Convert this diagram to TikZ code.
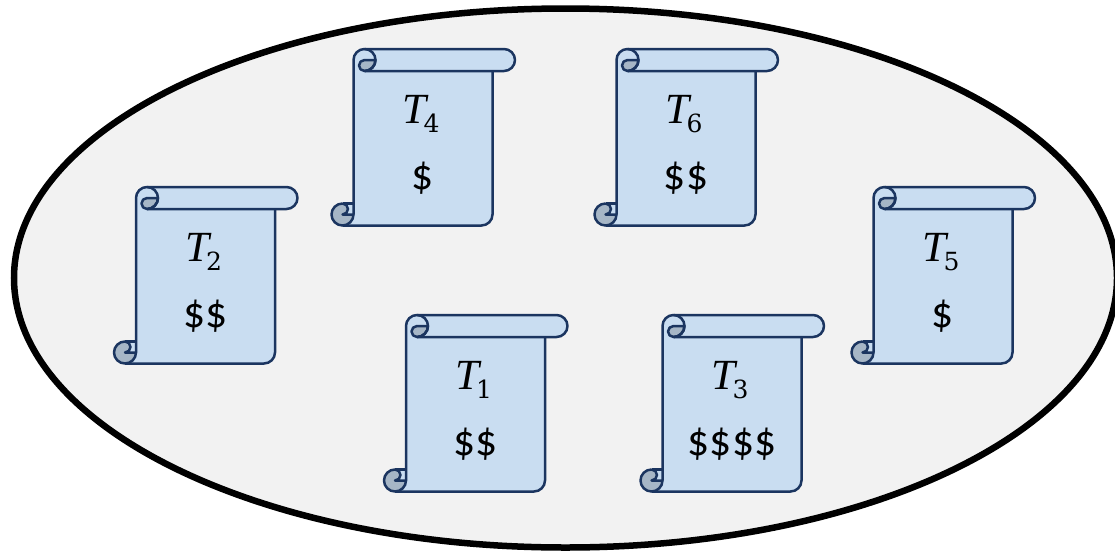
\documentclass[tikz,border=0pt]{standalone}
\usepackage{fontspec}
\usetikzlibrary{shapes.geometric}
\setmainfont{Carlito}
\newfontfamily\mathserif{Liberation Serif}
\newfontfamily\subserif{DejaVu Serif}
\definecolor{scrollfill}{HTML}{C9DDF1}
\definecolor{scrollline}{HTML}{1B3560}
\definecolor{scrollcurl}{HTML}{A6B6C6}
\definecolor{poolfill}{HTML}{F2F2F2}
\newcommand{\tasklabel}[2]{{\mathserif\fontsize{43}{43}\selectfont\itshape #1}\kern-3pt\lower9.8pt\hbox{\subserif\fontsize{25}{25}\selectfont #2}}
\tikzset{
  x=1pt,y=-1pt,
  scrollpart/.style={draw=scrollline,line width=2.5pt,line join=round},
  titletext/.style={inner sep=0pt,anchor=base},
  pricetext/.style={inner sep=0pt,anchor=center,font=\fontsize{43.5}{43.5}\selectfont},
  pics/taskscroll/.style n args={3}{code={
    \fill[scrollfill] (0,11) arc[start angle=180,end angle=90,radius=11pt] -- (150.5,0)
      arc[start angle=90,end angle=-90,radius=11pt] -- (139,22) -- (139,165.5)
      arc[start angle=0,end angle=-90,radius=11pt] -- (-11,176.5) -- (-11,154.5) -- (0,154.5) -- cycle;
    \draw[scrollpart] (0,165.5) -- (0,11) arc[start angle=180,end angle=90,radius=11pt] -- (150.5,0)
      arc[start angle=90,end angle=-90,radius=11pt] -- (11,22);
    \draw[scrollpart] (139,22) -- (139,165.5)
      arc[start angle=0,end angle=-90,radius=11pt] -- (-11,176.5);
    \draw[scrollpart,fill=scrollcurl] (22,11) arc[start angle=0,end angle=-90,radius=11pt]
      arc[start angle=270,end angle=90,radius=5.5pt] -- cycle;
    \draw[scrollpart] (11,0) arc[start angle=90,end angle=-90,radius=11pt];
    \draw[scrollpart,fill=scrollcurl] (-11,154.5)
      arc[start angle=90,end angle=360,radius=11pt] -- (-11,165.5)
      arc[start angle=-90,end angle=90,radius=5.5pt];
    \draw[scrollpart] (-11,154.5) -- (0,154.5);
    \node[titletext] (-title) at (67.5,74) {\tasklabel{#1}{#2}};
    \node[pricetext] (-price) at (69.5,129.5) {#3};
  }}
}
\begin{document}
\begin{tikzpicture}
\useasboundingbox (0,0) rectangle (1115,554);
\clip (0,0) rectangle (1115,554);
\node[draw=black,fill=poolfill,line width=6.5pt,shape=ellipse,inner sep=0pt,minimum width=1103pt,minimum height=539pt] (pool) at (565.5,278) {};
\pic (s4) at (353.5,49) {taskscroll={T}{4}{\$}};
\pic (s6) at (616.5,49) {taskscroll={T}{6}{\$\$}};
\pic (s2) at (136,187) {taskscroll={T}{2}{\$\$}};
\pic (s5) at (873.5,187) {taskscroll={T}{5}{\$}};
\pic (s1) at (406,315) {taskscroll={T}{1}{\$\$}};
\pic (s3) at (662.5,315) {taskscroll={T}{3}{\$\$\$\$}};
\end{tikzpicture}
\end{document}
